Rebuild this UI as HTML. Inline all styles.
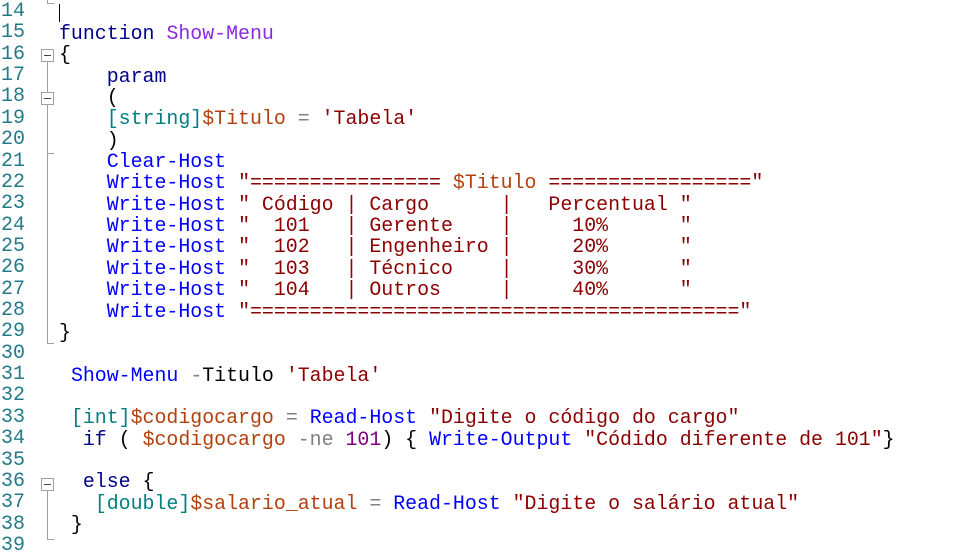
<!DOCTYPE html>
<html><head><meta charset="utf-8"><style>
body{margin:0;width:958px;height:559px;background:#fff;overflow:hidden;position:relative;font-family:"Liberation Mono",monospace;}
.ln{position:absolute;left:1px;font-size:20px;color:#237a8a;line-height:21.36px;white-space:pre;}
.c{position:absolute;left:59px;font-size:19.9px;line-height:21.36px;white-space:pre;color:#000;}
.k{color:#00008b}.f{color:#8a2be2}.m{color:#0000ff}.s{color:#8b0000}.v{color:#b3410e}.t{color:#008080}.o{color:#808080}.n{color:#800080}
.box{position:absolute;left:41px;width:11px;height:11px;border:1px solid #a0a0a0;background:#fff}
.box:after{content:"";position:absolute;left:2px;top:5px;width:7px;height:1px;background:#444}
.vl{position:absolute;left:47px;width:1px;background:#a0a0a0}
.tk{position:absolute;left:47px;width:7px;height:1px;background:#a0a0a0}
</style></head><body>
<div class="ln" style="top:1px">14
15
16
17
18
19
20
21
22
23
24
25
26
27
28
29
30
31
32
33
34
35
36
37
38
39</div>
<div class="c" style="top:1.5px">
<span class="k">function</span> <span class="f">Show-Menu</span>
{
    <span class="k">param</span>
    (
    <span class="t">[string]</span><span class="v">$Titulo</span> <span class="o">=</span> <span class="s">'Tabela'</span>
    )
    <span class="m">Clear-Host</span>
    <span class="m">Write-Host</span> <span class="s">"================ </span><span class="v">$Titulo</span><span class="s"> ================="</span>
    <span class="m">Write-Host</span> <span class="s">" Código | Cargo      |   Percentual "</span>
    <span class="m">Write-Host</span> <span class="s">"  101   | Gerente    |     10%      "</span>
    <span class="m">Write-Host</span> <span class="s">"  102   | Engenheiro |     20%      "</span>
    <span class="m">Write-Host</span> <span class="s">"  103   | Técnico    |     30%      "</span>
    <span class="m">Write-Host</span> <span class="s">"  104   | Outros     |     40%      "</span>
    <span class="m">Write-Host</span> <span class="s">"========================================="</span>
}

 <span class="m">Show-Menu</span> <span class="o">-</span>Titulo <span class="s">'Tabela'</span>

 <span class="t">[int]</span><span class="v">$codigocargo</span> <span class="o">=</span> <span class="m">Read-Host</span> <span class="s">"Digite o código do cargo"</span>
  <span class="k">if</span> ( <span class="v">$codigocargo</span> <span class="o">-ne</span> <span class="n">101</span>) { <span class="m">Write-Output</span> <span class="s">"Códido diferente de 101"</span>}

  <span class="k">else</span> {
   <span class="t">[double]</span><span class="v">$salario_atual</span> <span class="o">=</span> <span class="m">Read-Host</span> <span class="s">"Digite o salário atual"</span>
 }
</div>
<div style="position:absolute;left:59px;top:4px;width:1px;height:18px;background:#000"></div>
<div class="vl" style="top:0;height:3px"></div><div class="tk" style="top:3px"></div>
<div class="box" style="top:49px"></div>
<div class="vl" style="top:62px;height:281px"></div><div class="tk" style="top:343px"></div>
<div class="box" style="top:92px"></div>
<div class="tk" style="top:153px"></div>
<div class="box" style="top:478px"></div>
<div class="vl" style="top:491px;height:48px"></div><div class="tk" style="top:539px"></div>
</body></html>
